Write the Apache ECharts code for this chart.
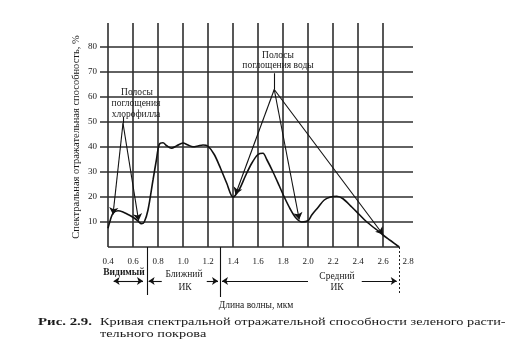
<!DOCTYPE html>
<html><head><meta charset="utf-8">
<script src="https://cdn.jsdelivr.net/npm/echarts@6/dist/echarts.min.js"></script>
<style>html,body{margin:0;padding:0;background:#fff}#c{width:514px;height:358px}</style>
</head><body><div id="c"></div>
<script>
// Spectral reflectance curve (wavelength, µm ; reflectance, %)
const waveX = [0.40,0.42,0.44,0.48,0.52,0.56,0.59,0.62,0.645,0.667,0.69,0.72,0.76,0.787,0.81,0.84,0.87,0.907,0.95,1.00,1.04,1.08,1.12,1.16,1.20,1.25,1.30,1.35,1.40,1.45,1.50,1.55,1.60,1.64,1.67,1.72,1.77,1.81,1.86,1.90,1.95,2.00,2.03,2.08,2.13,2.18,2.23,2.28,2.35,2.41,2.46,2.52,2.56,2.60,2.66,2.73];
const reflY = [7.5,11,13.5,14.5,14,13,12.2,11.2,10.1,9.3,10,14.8,26.8,34.8,41,41.7,40.5,39.5,40.5,41.6,40.8,40.1,40.4,40.8,40.3,37,31.5,25.5,20,23,28.5,33.5,37,37.5,35,30,24.5,20,15,11.8,10,10.5,12.8,15.8,18.8,20,20.3,19.3,16,13,10.5,8,6.5,4.8,2.6,0];
// absorption band pointers: apex -> arrow tips
const chloroApex = [0.52, 49.5];
const chloroTips = [[0.44, 13], [0.645, 10.5]];
const waterApex = [1.73, 63];
const waterTips = [[1.42, 21], [1.93, 11], [2.6, 5]];
// axes ticks
const xTicks = [0.4,0.6,0.8,1.0,1.2,1.4,1.6,1.8,2.0,2.2,2.4,2.6,2.8];
const xGrid = [0.4,0.6,0.8,1.0,1.2,1.4,1.6,1.8,2.0,2.2,2.4,2.6];
const yTicks = [10,20,30,40,50,60,70,80];
// spectral regions (boundaries, µm)
const regionBounds = [0.4, 0.71, 1.296, 2.73];

const FF = '"Liberation Serif", "DejaVu Serif", serif';
const ink = '#1a1a1a';
const chart = echarts.init(document.getElementById('c'), null, {renderer:'canvas'});

const gridLines = []
  .concat(xGrid.map(v => ({xAxis: v})))
  .concat(yTicks.map(v => ({yAxis: v})))
  .concat([[{coord:[0.4,0]},{coord:[regionBounds[3],0]}]]);

const arrowData = []
  .concat(chloroTips.map(t => [{coord: chloroApex}, {coord: t}]))
  .concat(waterTips.map(t => [{coord: waterApex}, {coord: t}]))
  .concat([[{coord:[chloroApex[0], 52], symbol:'none'}, {coord: chloroApex, symbol:'none'}]])
  .concat([[{coord:[waterApex[0], 69.5], symbol:'none'}, {coord: waterApex, symbol:'none'}]]);

// region arrows in lower band grid (y = offset below axis)
const AY = 34;
const regionArrows = [
  [{coord:[0.445, AY], symbol:'arrow'}, {coord:[0.68, AY], symbol:'arrow'}],
  [{coord:[0.83, AY], symbol:'none'}, {coord:[0.725, AY], symbol:'arrow'}],
  [{coord:[1.19, AY], symbol:'none'}, {coord:[1.28, AY], symbol:'arrow'}],
  [{coord:[2.0, AY], symbol:'none'}, {coord:[1.312, AY], symbol:'arrow'}],
  [{coord:[2.43, AY], symbol:'none'}, {coord:[2.71, AY], symbol:'arrow'}]
];
const dividers = [
  [{coord:[regionBounds[1], 0]}, {coord:[regionBounds[1], 48]}],
  [{coord:[regionBounds[2], 0]}, {coord:[regionBounds[2], 50]}]
];
const dashedDiv = [[{coord:[regionBounds[3], 0]}, {coord:[regionBounds[3], 48]}]];

function txt(text, x, y, size, opts) {
  opts = opts || {};
  return {type:'text', x:x, y:y, rotation: opts.rot || 0, scaleX: opts.sx || 1, scaleY: opts.sy || 1,
    style:{text:text, font:(opts.bold?'bold ':'') + size + 'px ' + FF, fill: ink,
      textAlign: opts.align || 'center', textVerticalAlign:'middle'}, z: 10};
}

chart.setOption({
  animation: false,
  backgroundColor: '#fff',
  grid: [
    {left:100, right:101, top:23, bottom:111, containLabel:false},
    {left:100, right:101, top:247, bottom:58, containLabel:false}
  ],
  xAxis: [
    {type:'value', gridIndex:0, min:0.336, max:2.84,
      axisLine:{show:false}, axisTick:{show:false}, splitLine:{show:false},
      axisLabel:{customValues: xTicks, formatter: v => v.toFixed(1), margin:10,
        fontSize:9, fontFamily:FF, color:ink}},
    {type:'value', gridIndex:1, min:0.336, max:2.84, show:false}
  ],
  yAxis: [
    {type:'value', gridIndex:0, min:0, max:89.6,
      axisLine:{show:false}, axisTick:{show:false}, splitLine:{show:false},
      axisLabel:{customValues: yTicks, margin:3, fontSize:9, fontFamily:FF, color:ink}},
    {type:'value', gridIndex:1, min:0, max:53, inverse:true, show:false}
  ],
  series: [
    {type:'line', xAxisIndex:0, yAxisIndex:0, data:[[0.4,0]], showSymbol:false, lineStyle:{width:0},
      markLine:{silent:true, symbol:['none','none'], label:{show:false},
        lineStyle:{color:'#2e2e2e', width:1.6, type:'solid'}, data: gridLines}},
    {type:'line', xAxisIndex:0, yAxisIndex:0, smooth:0.3, showSymbol:false, z:5,
      data: waveX.map((x,i) => [x, reflY[i]]),
      lineStyle:{color:'#111', width:1.6},
      markLine:{silent:true, symbol:['none','arrow'], symbolSize:7, label:{show:false},
        lineStyle:{color:'#111', width:1.1, type:'solid'}, data: arrowData}},
    {type:'line', xAxisIndex:1, yAxisIndex:1, data:[[0.4,0]], showSymbol:false, lineStyle:{width:0},
      markLine:{silent:true, symbol:['none','none'], symbolSize:6, label:{show:false},
        lineStyle:{color:'#111', width:1.1, type:'solid'},
        data: regionArrows.concat(dividers)}},
    {type:'line', xAxisIndex:1, yAxisIndex:1, data:[[0.4,0]], showSymbol:false, lineStyle:{width:0},
      markLine:{silent:true, symbol:['none','none'], label:{show:false},
        lineStyle:{color:'#222', width:1, type:[2,2]}, data: dashedDiv}}
  ],
  graphic: [
    txt('Спектральная отражательная способность, %', 76, 137, 10.5, {rot: Math.PI/2}),
    txt('Полосы', 137, 92, 9.5),
    txt('поглощения', 136, 103, 9.5),
    txt('хлорофилла', 136, 114, 9.5),
    txt('Полосы', 278, 55, 9.5),
    txt('поглощения воды', 278, 65, 9.5),
    txt('Видимый', 124, 273, 9.5, {bold:true}),
    txt('Ближний', 184, 274, 9.5),
    txt('ИК', 185, 287, 9.5),
    txt('Средний', 337, 276, 9.5),
    txt('ИК', 337, 287, 9.5),
    txt('Длина волны, мкм', 256, 305, 9.5),
    txt('Рис. 2.9.', 38, 322, 11, {bold:true, align:'left', sx:1.35}),
    txt('Кривая спектральной отражательной способности зеленого расти-', 100, 322, 11, {align:'left', sx:1.3}),
    txt('тельного покрова', 100, 334, 11, {align:'left', sx:1.3})
  ]
});
</script></body></html>
